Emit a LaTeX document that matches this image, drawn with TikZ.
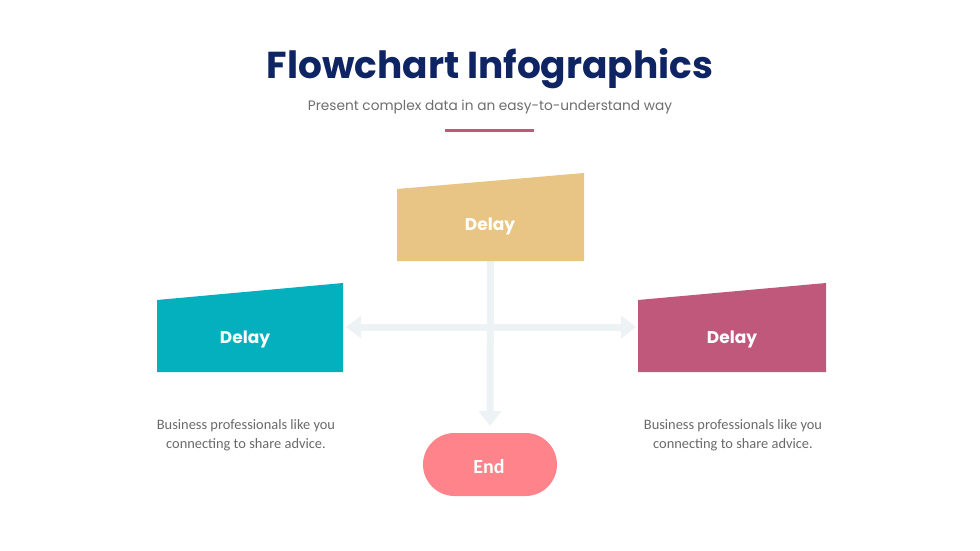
\documentclass[tikz,border=0pt]{standalone}
\usepackage{fontspec}
\setmainfont{Carlito}
\newfontfamily\pop{Poppins}
\usetikzlibrary{arrows.meta}
\definecolor{navy}{HTML}{0E2463}
\definecolor{subgray}{HTML}{6E6E6E}
\definecolor{bodygray}{HTML}{6A6A6A}
\definecolor{accent}{HTML}{C0587A}
\definecolor{sand}{HTML}{E8C584}
\definecolor{teal}{HTML}{04B0BE}
\definecolor{plum}{HTML}{C0587C}
\definecolor{coral}{HTML}{FE838B}
\definecolor{flowc}{HTML}{EDF2F4}
\tikzset{
  area/.style={inner sep=0pt, outer sep=0pt},
  boxlabel/.style={text=white, font=\pop\bfseries\fontsize{17}{20}\selectfont},
  bodytext/.style={text=bodygray, align=center, font=\fontsize{14.4}{19.5}\selectfont},
  flow/.style={draw=flowc, line width=7pt, {Triangle[width=22pt,length=15pt]}-{Triangle[width=22pt,length=15pt]}},
  flowdown/.style={draw=flowc, line width=7pt, -{Triangle[width=22pt,length=15pt]}}
}
\begin{document}
\begin{tikzpicture}[x=1pt,y=-1pt]
\useasboundingbox (0,0) rectangle (980,551);
\fill[white] (0,0) rectangle (980,551);

% title
\node[text=navy, font=\pop\bfseries\fontsize{37.5}{42}\selectfont] (title) at (490,69) {Flowchart Infographics};
\node[text=subgray, font=\pop\fontsize{13.7}{16}\selectfont] (sub) at (490,107) {Present complex data in an easy-to-understand way};
\draw[accent, line width=3pt] (445,130) -- (534,130);

% boxes (lower rectangular part as named nodes)
\node[area, minimum width=187pt, minimum height=72pt] (T) at (490.5,225) {};
\node[area, minimum width=186pt, minimum height=72pt] (L) at (250,336) {};
\node[area, minimum width=188pt, minimum height=72pt] (R) at (732,336) {};
\node[area, minimum width=134pt, minimum height=63pt] (E) at (490,464.5) {};

% arrows (behind shapes)
\draw[flow] ([xshift=3pt,yshift=9pt]L.east) -- ([xshift=-2pt,yshift=9pt]R.west);
\draw[flowdown] (T.south) -- ([yshift=7pt]E.north);

\fill[sand] (T.south west) -- (T.south east) -- ([yshift=16pt]T.north east) -- (T.north west) -- cycle;
\fill[teal] (L.south west) -- (L.south east) -- ([yshift=17pt]L.north east) -- (L.north west) -- cycle;
\fill[plum] (R.south west) -- (R.south east) -- ([yshift=17pt]R.north east) -- (R.north west) -- cycle;
\fill[coral, rounded corners=31.5pt] (E.south west) rectangle (E.north east);

\node[boxlabel] (tl) at (490,226) {Delay};
\node[boxlabel] (ll) at (245,339) {Delay};
\node[boxlabel] (rl) at (732,339) {Delay};
\node[text=white, font=\bfseries\fontsize{20}{23}\selectfont] (el) at (489,467) {End};

\node[bodytext] (lt) at (246,435) {Business professionals like you\\connecting to share advice.};
\node[bodytext] (rt) at (733,435) {Business professionals like you\\connecting to share advice.};
\end{tikzpicture}
\end{document}
